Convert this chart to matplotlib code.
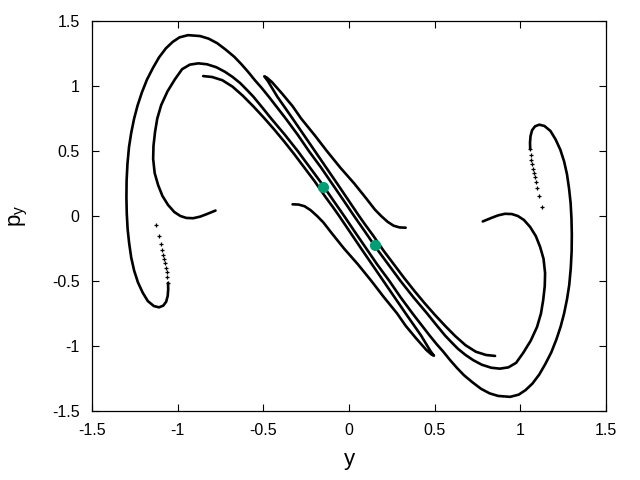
import matplotlib
matplotlib.use('Agg')
import matplotlib.pyplot as plt

plt.rcParams['font.family'] = ['Liberation Sans', 'DejaVu Sans']

# outer manifold piece: left tail -> left lobe -> top arc -> bundle -> lower inner arc
tail_a_y = [-1.127, -1.109, -1.097, -1.092, -1.086, -1.080, -1.074, -1.068, -1.062, -1.062, -1.057]
tail_a_p = [-0.069, -0.154, -0.215, -0.262, -0.300, -0.331, -0.362, -0.400, -0.431, -0.469, -0.515]

curve_a_y = [-1.057, -1.056, -1.059, -1.068, -1.085, -1.110, -1.140, -1.175, -1.205, -1.233,
             -1.255, -1.272, -1.284, -1.293, -1.298, -1.300, -1.299, -1.294, -1.285, -1.272,
             -1.255, -1.235, -1.210, -1.180, -1.145, -1.110, -1.070, -1.030, -0.990, -0.940,
             -0.870, -0.820, -0.770, -0.720, -0.670, -0.630, -0.590, -0.550, -0.510, -0.470,
             -0.420, -0.370, -0.300, -0.235, -0.165, -0.100, -0.035, 0.029,
             0.095, 0.160, 0.230, 0.300, 0.375, 0.455, 0.510, 0.560, 0.600, 0.636,
             0.680, 0.725, 0.775, 0.830, 0.880, 0.930, 0.975, 1.016, 1.060, 1.097,
             1.120, 1.133, 1.142, 1.144, 1.135, 1.115, 1.090, 1.057, 1.020, 0.985,
             0.950, 0.910, 0.870, 0.830, 0.780]
curve_a_p = [-0.515, -0.565, -0.615, -0.660, -0.690, -0.703, -0.693, -0.655, -0.590, -0.510,
             -0.420, -0.320, -0.210, -0.100, 0.020, 0.140, 0.270, 0.400, 0.530, 0.640,
             0.750, 0.850, 0.950, 1.050, 1.140, 1.220, 1.290, 1.340, 1.375, 1.392,
             1.385, 1.365, 1.330, 1.280, 1.225, 1.170, 1.110, 1.045, 0.985, 0.920,
             0.835, 0.750, 0.625, 0.500, 0.375, 0.250, 0.125, 0.000,
             -0.125, -0.250, -0.375, -0.500, -0.625, -0.750, -0.840, -0.920, -0.975, -1.023,
             -1.070, -1.110, -1.145, -1.168, -1.175, -1.165, -1.130, -1.054, -0.960, -0.854,
             -0.750, -0.646, -0.540, -0.440, -0.330, -0.238, -0.155, -0.085, -0.030, 0.000,
             0.015, 0.017, 0.005, -0.015, -0.042]

# its partner: right tail -> right lobe -> bottom arc -> bundle -> upper inner arc
curve_b_y = [1.057, 1.056, 1.059, 1.068, 1.085, 1.110, 1.140, 1.175, 1.205, 1.233,
             1.255, 1.272, 1.284, 1.293, 1.298, 1.300, 1.299, 1.294, 1.285, 1.272,
             1.255, 1.235, 1.210, 1.180, 1.145, 1.110, 1.070, 1.030, 0.990, 0.940,
             0.870, 0.820, 0.770, 0.720, 0.670, 0.630, 0.590, 0.550, 0.510, 0.470,
             0.420, 0.370, 0.300, 0.235, 0.165, 0.100, 0.035, -0.029,
             -0.095, -0.160, -0.230, -0.300, -0.375, -0.455, -0.510, -0.560, -0.600, -0.636,
             -0.680, -0.725, -0.775, -0.830, -0.880, -0.930, -0.975, -1.016, -1.060, -1.097,
             -1.120, -1.133, -1.142, -1.144, -1.135, -1.115, -1.090, -1.057, -1.020, -0.985,
             -0.950, -0.910, -0.870, -0.830, -0.780]
curve_b_p = [0.515, 0.565, 0.615, 0.660, 0.690, 0.703, 0.693, 0.655, 0.590, 0.510,
             0.420, 0.320, 0.210, 0.100, -0.020, -0.140, -0.270, -0.400, -0.530, -0.640,
             -0.750, -0.850, -0.950, -1.050, -1.140, -1.220, -1.290, -1.340, -1.375, -1.392,
             -1.385, -1.365, -1.330, -1.280, -1.225, -1.170, -1.110, -1.045, -0.985, -0.920,
             -0.835, -0.750, -0.625, -0.500, -0.375, -0.250, -0.125, 0.000,
             0.125, 0.250, 0.375, 0.500, 0.625, 0.750, 0.840, 0.920, 0.975, 1.023,
             1.070, 1.110, 1.145, 1.168, 1.175, 1.165, 1.130, 1.054, 0.960, 0.854,
             0.750, 0.646, 0.540, 0.440, 0.330, 0.238, 0.155, 0.085, 0.030, 0.000,
             -0.015, -0.017, -0.005, 0.015, 0.042]
tail_b_y = [1.127, 1.109, 1.097, 1.092, 1.086, 1.080, 1.074, 1.068, 1.062, 1.062, 1.057]
tail_b_p = [0.069, 0.154, 0.215, 0.262, 0.300, 0.331, 0.362, 0.400, 0.431, 0.469, 0.515]

# hairpin pieces
curve_d_y = [0.330, 0.295, 0.260, 0.225, 0.187, 0.150, 0.100, 0.030, -0.050, -0.130, -0.200, -0.280,
             -0.330, -0.390, -0.450, -0.480, -0.495, -0.475, -0.420, -0.330, -0.200, -0.070, 0.058,
             0.090, 0.140, 0.200, 0.260, 0.320, 0.380, 0.440, 0.500, 0.560, 0.620, 0.680, 0.740,
             0.800, 0.852]
curve_d_p = [-0.090, -0.088, -0.075, -0.045, 0.000, 0.050, 0.135, 0.250, 0.370, 0.500, 0.620, 0.750,
             0.845, 0.940, 1.030, 1.065, 1.075, 1.040, 0.920, 0.750, 0.500, 0.250, 0.000,
             -0.060, -0.150, -0.265, -0.370, -0.475, -0.575, -0.670, -0.760, -0.845, -0.925, -0.995, -1.045,
             -1.070, -1.077]
curve_e_y = [-0.330, -0.295, -0.260, -0.225, -0.187, -0.150, -0.100, -0.030, 0.050, 0.130, 0.200, 0.280,
             0.330, 0.390, 0.450, 0.480, 0.495, 0.475, 0.420, 0.330, 0.200, 0.070, -0.058,
             -0.090, -0.140, -0.200, -0.260, -0.320, -0.380, -0.440, -0.500, -0.560, -0.620, -0.680, -0.740,
             -0.800, -0.852]
curve_e_p = [0.090, 0.088, 0.075, 0.045, 0.000, -0.050, -0.135, -0.250, -0.370, -0.500, -0.620, -0.750,
             -0.845, -0.940, -1.030, -1.065, -1.075, -1.040, -0.920, -0.750, -0.500, -0.250, 0.000,
             0.060, 0.150, 0.265, 0.370, 0.475, 0.575, 0.670, 0.760, 0.845, 0.925, 0.995, 1.045,
             1.070, 1.077]

# fixed points
fixed_y = [-0.152, 0.152]
fixed_p = [0.223, -0.223]

fig = plt.figure(figsize=(6.4, 4.8), dpi=100)
ax = fig.add_axes([0.144, 0.144, 0.803, 0.812])

for cy, cp in [(curve_a_y, curve_a_p), (curve_b_y, curve_b_p),
               (curve_d_y, curve_d_p), (curve_e_y, curve_e_p)]:
    ax.plot(cy, cp, color='black', lw=1.9, solid_capstyle='round', solid_joinstyle='round')
for ty, tp in [(tail_a_y, tail_a_p), (tail_b_y, tail_b_p)]:
    ax.plot(ty, tp, ls='none', marker='+', ms=3.5, mew=0.9, color='black')

ax.plot(fixed_y, fixed_p, ls='none', marker='o', ms=7, color='#009e73', zorder=5)

ax.set_xlim(-1.5, 1.5)
ax.set_ylim(-1.5, 1.5)
ax.set_xticks([-1.5, -1, -0.5, 0, 0.5, 1, 1.5])
ax.set_yticks([-1.5, -1, -0.5, 0, 0.5, 1, 1.5])
ax.set_xticklabels(['-1.5', '-1', '-0.5', '0', '0.5', '1', '1.5'])
ax.set_yticklabels(['-1.5', '-1', '-0.5', '0', '0.5', '1', '1.5'])
ax.tick_params(direction='in', top=True, right=True, length=5, width=0.8,
               labelsize=11.5, pad=9)
for s in ax.spines.values():
    s.set_linewidth(0.9)

ax.set_xlabel('y', fontsize=16, labelpad=8)
ax.set_ylabel(r'p$_\mathregular{y}$', fontsize=16, labelpad=16)

fig.savefig('out.png', dpi=100)
